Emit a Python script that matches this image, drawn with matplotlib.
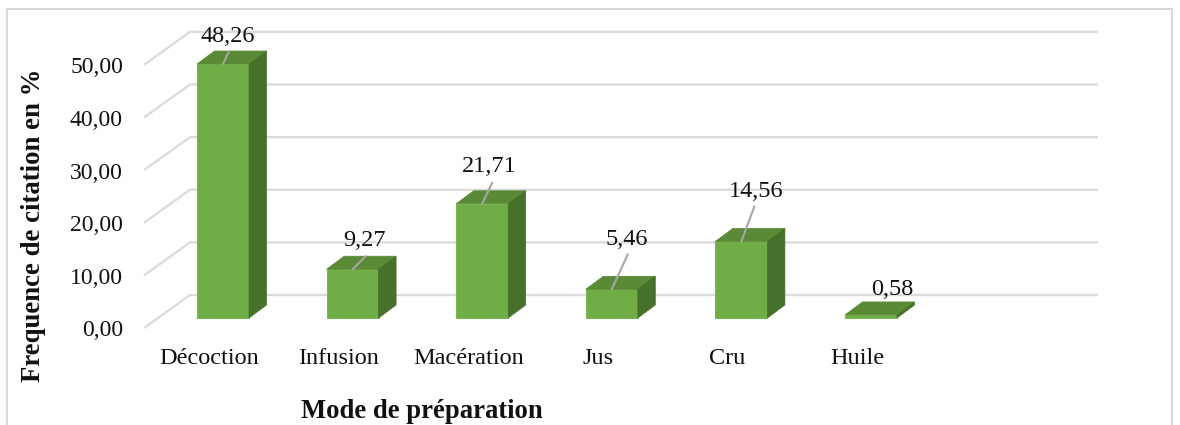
import matplotlib.pyplot as plt
from matplotlib.lines import Line2D
from matplotlib.patches import Polygon

plt.rcParams["font.family"] = ["Liberation Serif", "DejaVu Serif"]

categories = ["Décoction", "Infusion", "Macération", "Jus", "Cru", "Huile"]
values = [48.26, 9.27, 21.71, 5.46, 14.56, 0.58]
value_labels = ["48,26", "9,27", "21,71", "5,46", "14,56", "0,58"]
y_ticks = [0, 10, 20, 30, 40, 50]
y_tick_labels = ["0,00", "10,00", "20,00", "30,00", "40,00", "50,00"]

# label offset from the top centre of each bar, and end of the leader line (pixels)
label_offsets = [(5, 28), (12, 29), (7, 37), (15, 50), (15, 50), (21, 25)]
leader_ends = [(6, 13), (13, 13), (10, 21), (16, 35), (13, 35), None]

W, H = 1180, 425
PX_CAT = 129.6     # pixels per category
PX_VAL = 5.263     # pixels per unit of value
X0_PX, Y0_PX = 223, 318   # first bar centre, zero level of the bars

fig = plt.figure(figsize=(W / 100, H / 100), dpi=100, facecolor="white")
left, right, bottom, top = 144, 1098, 330, 20
ax = fig.add_axes([left / W, 1 - bottom / H, (right - left) / W, (bottom - top) / H])
ax.set_xlim((left - X0_PX) / PX_CAT, (right - X0_PX) / PX_CAT)
ax.set_ylim((Y0_PX - bottom) / PX_VAL, (Y0_PX - top) / PX_VAL)
ax.axis("off")

# depth of the bars and of the floor, in data units
bar_dx, bar_dy = 17.5 / PX_CAT, 13 / PX_VAL
wall_dx, wall_dy = 46 / PX_CAT, 33 / PX_VAL
floor_x = (144 - X0_PX) / PX_CAT
floor_dy = -10 / PX_VAL
x_end = (right - X0_PX) / PX_CAT
half = 26 / PX_CAT
grid_col = "#dcdcdc"

for v in y_ticks:
    y = v + floor_dy
    ax.plot([floor_x, floor_x + wall_dx, x_end], [y, y + wall_dy, y + wall_dy],
            color=grid_col, lw=1.7, zorder=1, clip_on=False, solid_capstyle="butt")
    ax.annotate(y_tick_labels[v // 10], (floor_x, y), xytext=(-21, -3), textcoords="offset pixels",
                ha="right", va="center", fontsize=17, color="#111111")

for i, v in enumerate(values):
    x1, x2 = i - half, i + half
    ax.add_patch(Polygon([(x1, 0), (x2, 0), (x2, v), (x1, v)], fc="#70ad47", ec="#7db857", lw=0.8, zorder=3))
    ax.add_patch(Polygon([(x1, v), (x2, v), (x2 + bar_dx, v + bar_dy), (x1 + bar_dx, v + bar_dy)],
                         fc="#5a8a36", ec="#5a8a36", lw=0.5, zorder=3))
    ax.add_patch(Polygon([(x2, 0), (x2 + bar_dx, bar_dy), (x2 + bar_dx, v + bar_dy), (x2, v)],
                         fc="#47702a", ec="#47702a", lw=0.5, zorder=3))
    if leader_ends[i] is not None:
        # leader line runs up from the bar top towards its label
        ax.annotate("", (i, v), xytext=leader_ends[i], textcoords="offset pixels",
                    xycoords="data", annotation_clip=False, zorder=4,
                    arrowprops=dict(arrowstyle="-", color="#a6a6a6", lw=1.5, shrinkA=0, shrinkB=0))
    ax.annotate(value_labels[i], (i, v), xytext=label_offsets[i], textcoords="offset pixels",
                ha="center", va="center", fontsize=17.5, color="#111111", zorder=5)
    ax.annotate(categories[i], (i, 0), xytext=(-14, -41), textcoords="offset pixels",
                ha="center", va="center", fontsize=17.5, color="#111111")

fig.text(422 / W, 1 - 412 / H, "Mode de préparation", ha="center", va="center",
         fontsize=19.2, fontweight="bold", color="#111111")
fig.text(34 / W, 1 - 225 / H, "Frequence de citation en %", ha="center", va="center",
         rotation=90, fontsize=19.3, fontweight="bold", color="#111111")

# chart border, open at the bottom
border = "#d9d9d9"
for xs, ys in [((6.5, 6.5), (425, 9)), ((6.5, 1172), (9, 9)), ((1172, 1172), (9, 425))]:
    fig.add_artist(Line2D([x / W for x in xs], [1 - y / H for y in ys], color=border, lw=1.5))

fig.savefig("out.png", dpi=100)
plt.close(fig)
